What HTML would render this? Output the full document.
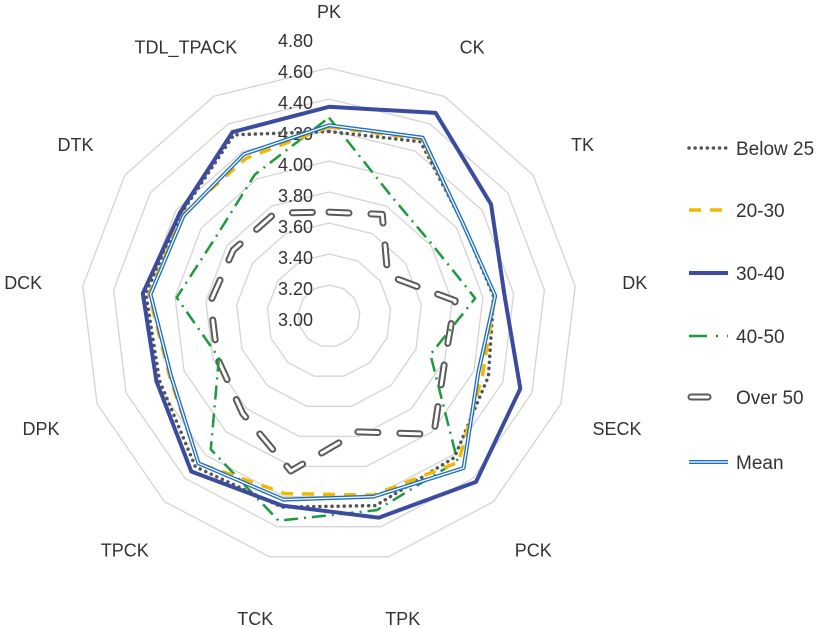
<!DOCTYPE html>
<html><head><meta charset="utf-8"><style>
html,body{margin:0;padding:0;background:#fff}
svg{display:block;font-family:"Liberation Sans",sans-serif}
</style></head><body>
<svg id="chart" width="827" height="628" viewBox="0 0 827 628">
<g id="grid"></g>
<g id="ticks"></g>
<g id="series"></g>
<g id="axislabels"></g>
<g id="legend"></g>
</svg>
<script>
const categories = ["PK","CK","TK","DK","SECK","PCK","TPK","TCK","TPCK","DPK","DCK","DTK","TDL_TPACK"];
const tickLabels = ["3.00","3.20","3.40","3.60","3.80","4.00","4.20","4.40","4.60","4.80"];
const below25 = [4.19,4.27,4.05,4.07,4.10,4.22,4.26,4.27,4.30,4.17,4.19,4.16,4.32];
const age2030 = [4.22,4.29,4.05,4.08,4.06,4.26,4.19,4.18,4.27,4.10,4.17,4.15,4.15];
const age3040 = [4.35,4.48,4.27,4.14,4.32,4.43,4.34,4.26,4.34,4.19,4.21,4.17,4.34];
const age4050 = [4.28,3.87,3.81,3.95,3.70,4.25,4.29,4.36,4.15,3.76,3.99,3.89,4.03];
const over50 = [3.67,3.74,3.46,3.82,3.80,4.02,3.77,4.03,3.84,3.77,3.77,3.75,3.75];
const meanVals = [4.23,4.30,4.05,4.08,4.03,4.31,4.20,4.22,4.27,4.09,4.16,4.14,4.18];
const seriesNames = ["Below 25","20-30","30-40","40-50","Over 50","Mean"];

const NS="http://www.w3.org/2000/svg";
const cx=329, cy=316, vMin=3.0, vMax=4.8, rMax=279;
const N=categories.length;
function rScale(v){return (v-vMin)/(vMax-vMin)*rMax;}
function ang(i){return i*2*Math.PI/N;}
function pt(i,v){const r=rScale(v);return [cx+r*Math.sin(ang(i)), cy-r*Math.cos(ang(i))];}
function mk(tag,attrs,parent){const e=document.createElementNS(NS,tag);for(const k in attrs)e.setAttribute(k,attrs[k]);parent.appendChild(e);return e;}
function polyPts(vals){return vals.map((v,i)=>pt(i,v).map(n=>n.toFixed(1)).join(",")).join(" ");}

const grid=document.getElementById("grid");
for(let k=1;k<tickLabels.length-1;k++){
  const v=parseFloat(tickLabels[k]);
  const p=mk("polygon",{points:polyPts(categories.map(()=>v)),fill:"none",stroke:"#d4d4d4","stroke-width":1.3},grid);
  
  
}
const ticks=document.getElementById("ticks");
tickLabels.forEach(t=>{
  const y=cy-rScale(parseFloat(t))+4;
  const e=mk("text",{x:313,y:y+6,"text-anchor":"end","font-size":18,fill:"#333"},ticks);
  e.textContent=t;
  
  
});
const al=document.getElementById("axislabels");
categories.forEach((c,i)=>{
  const r=308;
  const x=cx+r*Math.sin(ang(i)), y=cy-r*Math.cos(ang(i))+4;
  const e=mk("text",{x:x.toFixed(1),y:(y+6).toFixed(1),"text-anchor":"middle","font-size":18,fill:"#333"},al);
  e.textContent=c;
  
  
});

const styles=[
  [{stroke:"#555","stroke-width":3.5,"stroke-dasharray":"0.1 6","stroke-linecap":"round"}],
  [{stroke:"#f2b800","stroke-width":3.5,"stroke-dasharray":"12 9"}],
  [{stroke:"#3b4c9e","stroke-width":4}],
  [{stroke:"#1c9a3c","stroke-width":2.5,"stroke-dasharray":"14 6 2 6"}],
  [{stroke:"#5a5a5a","stroke-width":7,"stroke-dasharray":"20 22","stroke-linecap":"round"},{stroke:"#fff","stroke-width":3,"stroke-dasharray":"20 22","stroke-linecap":"round"}],
  [{stroke:"#1e6fc0","stroke-width":4},{stroke:"#fff","stroke-width":1.3}]
];
const allSeries=[below25,age2030,age3040,age4050,over50,meanVals];
const sg=document.getElementById("series");
const order=[4,3,0,1,5,2];
order.forEach(si=>{
  const g=mk("g",{},sg);
  
  
  styles[si].forEach(st=>{
    const a=Object.assign({points:polyPts(allSeries[si]),fill:"none","stroke-linejoin":"round"},st);
    const p=mk("polygon",a,g);
    
    
  });
});
const lg=document.getElementById("legend");
const ly=[148,210,273,336,397,462];
seriesNames.forEach((n,si)=>{
  const g=mk("g",{},lg);
  
  
  styles[si].forEach(st=>{
    const a=Object.assign({x1:689,x2:728,y1:ly[si],y2:ly[si]},st);
    if(si===4){a["stroke-dasharray"]="none";a.x1=691;a.x2=708;}
    if(si===3){a["stroke-dasharray"]="18 9 2 9";}
    const l=mk("line",a,g);
    
    
  });
  const t=mk("text",{x:736,y:ly[si]+7,"font-size":19,fill:"#333"},g);
  t.textContent=n;
  
  
});
</script>
</body></html>
